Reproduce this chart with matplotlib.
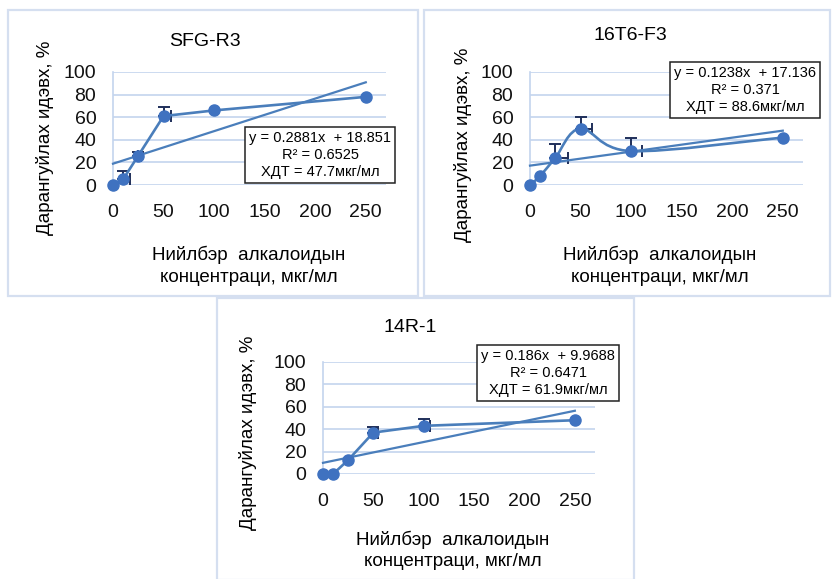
import numpy as np
import matplotlib
matplotlib.use('Agg')
from matplotlib import pyplot as plt
from matplotlib.path import Path
from matplotlib.patches import PathPatch, Rectangle

# concentrations, mkg/ml
conc = [0, 10, 25, 50, 100, 250]

sfg_r3 = [0, 5, 26, 61, 66, 78]
sfg_r3_yerr = [0, 7, 3, 8, 0, 0]
sfg_r3_xerr = [0, 7, 3, 7, 0, 0]

t16_f3 = [0, 8, 24, 50, 30, 42]
t16_f3_yerr = [0, 0, 12, 10, 12, 0]
t16_f3_xerr = [0, 0, 13, 11, 11, 0]

r14_1 = [0, 0, 12.5, 37, 43, 48]
r14_1_yerr = [0, 0, 0, 5, 6, 0]
r14_1_xerr = [0, 0, 0, 5, 6, 0]

slopes = [0.2881, 0.1238, 0.186]
intercepts = [18.851, 17.136, 9.9688]
r2_text = ['0.6525', '0.371', '0.6471']
hdt_text = ['47.7', '88.6', '61.9']
fit_text = ['y = 0.2881x  + 18.851', 'y = 0.1238x  + 17.136', 'y = 0.186x  + 9.9688']
titles = ['SFG-R3', '16T6-F3', '14R-1']
smoothed = [False, True, False]

plt.rcParams['font.family'] = ['Liberation Sans', 'DejaVu Sans']

W, H = 832, 579
fig = plt.figure(figsize=(W/100, H/100), dpi=100)
fig.patch.set_facecolor('w')

line_c = '#4a7ebb'
dot_c = '#3f72c0'
grid_c = '#c3d4ee'
err_c = '#1f2f5a'
frame_c = '#d5dff0'


def px(x0, y0, x1, y1):
    # pixel box -> figure fraction [l, b, w, h]
    return [x0/W, 1 - y1/H, (x1 - x0)/W, (y1 - y0)/H]


def smooth_path(x, y):
    # excel-style smoothed line through the points (cubic bezier)
    pts = np.column_stack([x, y]).astype(float)
    n = len(pts)
    verts = [pts[0]]
    codes = [Path.MOVETO]
    for i in range(n - 1):
        p0 = pts[max(i - 1, 0)]
        p1 = pts[i]
        p2 = pts[i + 1]
        p3 = pts[min(i + 2, n - 1)]
        c1 = p1 + (p2 - p0) / 6
        c2 = p2 - (p3 - p1) / 6
        verts += [c1, c2, p2]
        codes += [Path.CURVE4] * 3
    return Path(verts, codes)


frames = [(8, 10, 418, 296), (424, 10, 830, 296), (217, 298, 634, 580)]
for x0, y0, x1, y1 in frames:
    fig.patches.append(Rectangle((x0/W, 1 - y1/H), (x1 - x0)/W, (y1 - y0)/H,
                                 transform=fig.transFigure, fill=False,
                                 ec=frame_c, lw=1.6))

ax_boxes = [(113, 72, 386, 185), (530, 72, 803, 185), (323, 362, 595, 474)]
title_pos = [(205, 42), (630, 35), (410, 328)]
ylab_pos = [(45, 138), (463, 145), (248, 433)]
xlab_pos = [(249, 255, 277), (660, 255, 277), (453, 540, 562)]
box_pos = [(320, 155), (745, 90), (548, 373)]

series = [(sfg_r3, sfg_r3_yerr, sfg_r3_xerr),
          (t16_f3, t16_f3_yerr, t16_f3_xerr),
          (r14_1, r14_1_yerr, r14_1_xerr)]

for k in range(3):
    vals, yerr, xerr = series[k]
    ax = fig.add_axes(px(*ax_boxes[k]))
    ax.set_xlim(0, 270)
    ax.set_ylim(0, 100)
    for s in ['top', 'right', 'bottom']:
        ax.spines[s].set_visible(False)
    ax.spines['left'].set_color(grid_c)
    ax.spines['left'].set_linewidth(1.2)
    ax.set_yticks(np.arange(0, 101, 20))
    ax.set_xticks(np.arange(0, 251, 50))
    ax.grid(axis='y', color=grid_c, lw=1.2)
    ax.set_axisbelow(True)
    ax.tick_params(length=0, labelsize=14, colors='#111111')
    ax.tick_params(axis='y', pad=12)
    ax.tick_params(axis='x', pad=14)

    # data line
    if smoothed[k]:
        ax.add_patch(PathPatch(smooth_path(conc, vals), fc='none', ec=line_c,
                               lw=1.9, zorder=3, clip_on=False))
    else:
        ax.plot(conc, vals, '-', color=line_c, lw=1.9, zorder=3, clip_on=False)
    # linear trend
    xt = np.array([0, 250])
    ax.plot(xt, slopes[k]*xt + intercepts[k], color=line_c, lw=1.6,
            zorder=3, clip_on=False)

    # error bars (upper y, right x only)
    ye = np.array(yerr, dtype=float)
    xe = np.array(xerr, dtype=float)
    c = np.array(conc, dtype=float)
    v = np.array(vals, dtype=float)
    m = ye > 0
    if m.any():
        ax.errorbar(c[m], v[m], yerr=[np.zeros(m.sum()), ye[m]], fmt='none',
                    ecolor=err_c, elinewidth=1.4, capsize=4, capthick=1.4,
                    zorder=2, clip_on=False)
    m = xe > 0
    if m.any():
        ax.errorbar(c[m], v[m], xerr=[np.zeros(m.sum()), xe[m]], fmt='none',
                    ecolor=err_c, elinewidth=1.4, capsize=4, capthick=1.4,
                    zorder=2, clip_on=False)

    ax.plot(conc, vals, 'o', ms=8, color=dot_c, zorder=4, clip_on=False)

    tx, ty = title_pos[k]
    fig.text(tx/W, 1 - ty/H, titles[k], ha='center', va='center', fontsize=14)
    yx, yy = ylab_pos[k]
    fig.text(yx/W, 1 - yy/H, 'Дарангуйлах идэвх, %', ha='center', va='center',
             rotation=90, fontsize=13.5)
    lx, l1, l2 = xlab_pos[k]
    fig.text(lx/W, 1 - l1/H, 'Нийлбэр  алкалоидын', ha='center', va='center',
             fontsize=13.5)
    fig.text(lx/W, 1 - l2/H, 'концентраци, мкг/мл', ha='center', va='center',
             fontsize=13.5)

    bx, by = box_pos[k]
    note = fit_text[k] + '\nR² = ' + r2_text[k] + '\nХДТ = ' + hdt_text[k] + 'мкг/мл'
    fig.text(bx/W, 1 - by/H, note, ha='center', va='center', fontsize=10.5,
             multialignment='center', linespacing=1.25,
             bbox=dict(boxstyle='square,pad=0.3', fc='w', ec='#222222', lw=1.1),
             zorder=10)

fig.savefig('out.png', dpi=100)
